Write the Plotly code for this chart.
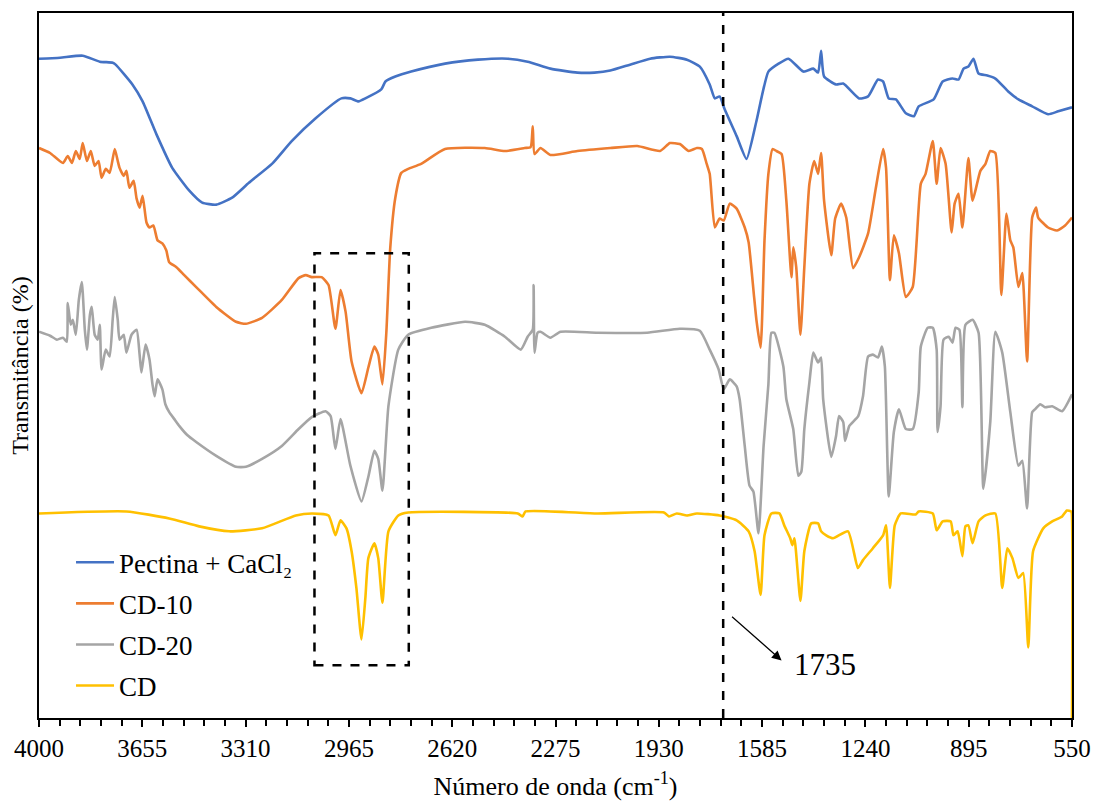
import plotly.graph_objects as go

# ---------------- data ----------------
# wavenumber (cm-1) and offset transmittance (arbitrary units, stacked curves)
wn_pectina = [4000, 3930, 3854, 3797, 3754, 3744, 3688, 3654, 3608, 3555, 3498, 3455, 3408, 3355,
              3299, 3222, 3156, 3076, 2990, 2960, 2933, 2910, 2857, 2843, 2810, 2757, 2644, 2534,
              2434, 2368, 2292, 2202, 2145, 2092, 2026, 1959, 1893, 1836, 1793, 1760, 1743, 1727,
              1710, 1670, 1637, 1604, 1564, 1530, 1497, 1447, 1414, 1398, 1388, 1378, 1338, 1314,
              1261, 1231, 1198, 1181, 1162, 1138, 1105, 1078, 1062, 1012, 982, 949, 929, 912, 896,
              879, 862, 833, 806, 763, 729, 683, 630, 596, 550]
t_pectina = [664, 665, 667, 661, 660, 658, 638, 621, 588, 554, 531, 519, 517, 524,
             539, 558, 581, 604, 624, 624, 621, 624, 633, 641, 646, 651, 659, 663,
             664, 661, 654, 650, 650, 652, 658, 664, 666, 663, 656, 638, 624, 626,
             613, 586, 563, 601, 651, 659, 664, 651, 654, 650, 672, 646, 638, 639,
             624, 626, 643, 641, 624, 623, 609, 606, 616, 623, 641, 644, 643, 654, 656,
             664, 649, 647, 644, 631, 623, 616, 608, 611, 615]

wn_cd10 = [4000, 3963, 3920, 3904, 3890, 3877, 3864, 3854, 3840, 3827, 3814, 3801, 3791, 3777,
           3764, 3747, 3737, 3731, 3717, 3708, 3698, 3684, 3674, 3664, 3654, 3641, 3631, 3618,
           3604, 3588, 3575, 3565, 3541, 3515, 3475, 3408, 3342, 3309, 3255, 3189, 3133, 3109,
           3089, 3056, 3033, 3010, 2993, 2976, 2956, 2923, 2900, 2880, 2867, 2853, 2840, 2827,
           2810, 2790, 2767, 2724, 2644, 2511, 2444, 2378, 2358, 2351, 2345, 2325, 2292, 2202,
           2092, 2002, 1926, 1893, 1860, 1830, 1803, 1786, 1770, 1760, 1743, 1727, 1713, 1693,
           1670, 1643, 1630, 1613, 1604, 1590, 1577, 1564, 1550, 1537, 1520, 1504, 1487, 1481,
           1471, 1457, 1444, 1427, 1411, 1398, 1388, 1378, 1354, 1341, 1321, 1304, 1281, 1261,
           1231, 1205, 1181, 1171, 1158, 1145, 1128, 1105, 1082, 1055, 1039, 1015, 1002, 989,
           972, 952, 942, 929, 916, 896, 882, 856, 839, 823, 806, 786, 769, 756, 746, 729, 716,
           700, 683, 670, 663, 630, 600, 573, 550]
t_cd10 = [574, 569, 559, 566, 559, 571, 563, 579, 561, 571, 556, 561, 544, 553,
          549, 573, 561, 554, 546, 551, 534, 541, 523, 514, 526, 499, 494, 496,
          481, 478, 471, 459, 454, 446, 434, 414, 399, 397, 403, 421, 443, 446,
          444, 444, 436, 392, 431, 409, 359, 327, 353, 374, 366, 336, 388, 473,
          524, 549, 553, 558, 573, 574, 571, 574, 575, 596, 568, 574, 567, 571,
          574, 576, 571, 579, 578, 571, 574, 573, 558, 548, 494, 503, 501, 518,
          513, 494, 479, 428, 401, 373, 481, 548, 573, 571, 568, 521, 444, 474,
          454, 386, 454, 538, 561, 548, 569, 521, 466, 503, 518, 504, 453, 464,
          488, 534, 573, 554, 441, 486, 468, 424, 434, 538, 548, 581, 538, 574,
          558, 489, 518, 528, 494, 564, 521, 551, 558, 571, 569, 426, 508, 481, 474, 434, 448,
          359, 504, 514, 504, 494, 491, 496, 504]

wn_cd20 = [4000, 3963, 3940, 3920, 3907, 3904, 3894, 3887, 3877, 3867, 3857, 3847, 3840, 3830,
           3824, 3814, 3804, 3797, 3791, 3777, 3764, 3754, 3747, 3737, 3731, 3717, 3708, 3691,
           3674, 3664, 3658, 3644, 3631, 3621, 3614, 3604, 3588, 3578, 3565, 3548, 3531, 3505,
           3475, 3408, 3342, 3309, 3255, 3189, 3133, 3089, 3043, 3026, 3010, 2993, 2960, 2923,
           2900, 2880, 2867, 2853, 2833, 2800, 2767, 2690, 2577, 2511, 2444, 2391, 2368, 2351,
           2348, 2345, 2335, 2325, 2292, 2258, 2135, 1969, 1860, 1793, 1760, 1730, 1713, 1693,
           1670, 1660, 1643, 1627, 1614, 1597, 1580, 1564, 1554, 1544, 1514, 1504, 1481, 1464,
           1454, 1444, 1427, 1414, 1398, 1388, 1381, 1354, 1338, 1328, 1314, 1308, 1294, 1264,
           1248, 1231, 1215, 1198, 1185, 1175, 1162, 1145, 1128, 1105, 1082, 1062, 1055, 1032,
           1015, 1002, 999, 989, 979, 962, 949, 939, 926, 916, 906, 882, 862, 846, 823, 806,
           783, 756, 729, 716, 700, 683, 673, 656, 640, 616, 583, 550]
t_cd20 = [389, 385, 381, 383, 379, 418, 396, 401, 386, 421, 439, 391, 371, 406,
          414, 386, 381, 396, 351, 371, 364, 401, 424, 401, 381, 386, 368, 386,
          391, 366, 348, 376, 361, 336, 324, 341, 331, 316, 308, 301, 294, 285,
          278, 264, 253, 253, 261, 274, 291, 303, 309, 304, 271, 301, 254, 218,
          243, 269, 261, 229, 314, 371, 386, 393, 399, 396, 384, 371, 384, 391,
          436, 368, 388, 389, 383, 389, 388, 388, 392, 390, 371, 351, 331, 341,
          334, 321, 274, 234, 228, 186, 274, 336, 388, 388, 354, 321, 291, 244,
          248, 291, 338, 368, 358, 363, 321, 263, 284, 304, 298, 279, 294, 304,
          324, 364, 366, 363, 374, 354, 223, 288, 311, 291, 291, 328, 374, 393,
          393, 371, 288, 314, 381, 384, 378, 393, 391, 313, 396, 401, 388, 231, 298, 389,
          368, 308, 254, 259, 211, 308, 311, 316, 313, 314, 309, 326]

wn_cd = [4000, 3708, 3565, 3465, 3365, 3255, 3142, 3089, 3033, 3010, 2993, 2973, 2956, 2940,
         2923, 2910, 2900, 2880, 2867, 2853, 2833, 2800, 2767, 2401, 2385, 2375, 2135, 1913,
         1896, 1870, 1836, 1803, 1727, 1670, 1630, 1610, 1590, 1577, 1554, 1527, 1511, 1491,
         1484, 1477, 1457, 1444, 1421, 1398, 1388, 1371, 1348, 1298, 1265, 1248, 1215, 1181,
         1171, 1158, 1142, 1122, 1072, 1062, 1015, 1002, 982, 955, 946, 932, 916, 906, 896,
         882, 862, 839, 806, 783, 766, 749, 729, 713, 696, 680, 646, 616, 583, 567, 553, 551, 550]
t_cd = [206, 208, 201, 193, 188, 191, 204, 206, 204, 184, 199, 191, 168, 131,
        79, 121, 161, 176, 161, 116, 188, 204, 207, 206, 203, 208, 206, 207,
        203, 206, 204, 206, 204, 199, 188, 168, 124, 184, 206, 206, 194, 181,
        174, 181, 118, 168, 196, 196, 188, 184, 181, 188, 151, 159, 171, 184,
        194, 131, 194, 206, 205, 208, 206, 189, 198, 198, 184, 188, 163, 193, 194,
        176, 198, 204, 206, 131, 171, 161, 141, 146, 71, 168, 191, 198, 203, 209, 208, 207, 0]

series = [
    ("Pectina + CaCl\u2082", wn_pectina, t_pectina, "#4472C4"),
    ("CD-10", wn_cd10, t_cd10, "#ED7D31"),
    ("CD-20", wn_cd20, t_cd20, "#A5A5A5"),
    ("CD", wn_cd, t_cd, "#FFC000"),
]

x_ticks = [4000, 3655, 3310, 2965, 2620, 2275, 1930, 1585, 1240, 895, 550]
peak_label = "1735"
peak_line_wn = 1715          # position of the dashed marker line on the axis
box_wn = [3080, 2765]        # dashed box around the C-H stretching bands
box_t = [53, 468]

FONT = "Liberation Serif, Times New Roman, serif"

fig = go.Figure()
for i, (name, wn, t, color) in enumerate(series):
    assert len(wn) == len(t), name
    fig.add_trace(go.Scatter(
        x=wn, y=t, mode="lines", name=name, legendgroup=f"g{i}",
        line=dict(color=color, width=2.6, shape="spline", smoothing=0.5),
    ))

fig.add_shape(type="line", xref="x", yref="paper", x0=peak_line_wn, x1=peak_line_wn,
              y0=0, y1=1, line=dict(color="black", width=2.5, dash="dash"))
fig.add_shape(type="rect", xref="x", yref="y", x0=box_wn[0], x1=box_wn[1],
              y0=box_t[0], y1=box_t[1], line=dict(color="black", width=2.5, dash="dash"))

fig.add_annotation(x=1520, y=58, xref="x", yref="y", ax=-51, ay=-45, text="",
                   showarrow=True, arrowhead=2, arrowsize=1.6, arrowwidth=1.2,
                   arrowcolor="black")
fig.add_annotation(x=1374, y=54, xref="x", yref="y", text=peak_label, showarrow=False,
                   font=dict(family=FONT, size=31, color="black"))

fig.update_xaxes(
    range=[4000, 550], tickvals=x_ticks, ticktext=[str(v) for v in x_ticks],
    ticks="outside", ticklen=7, tickwidth=1.5, tickcolor="black",
    minor=dict(dtick=69, tick0=550, ticks="outside", ticklen=6, tickwidth=1.5, tickcolor="black"),
    showline=True, linecolor="black", linewidth=2, mirror=True, layer="below traces",
    showgrid=False, zeroline=False,
    tickfont=dict(family=FONT, size=25, color="black"),
    title=dict(text="Número de onda (cm<sup>-1</sup>)", standoff=16,
               font=dict(family=FONT, size=26, color="black")),
)
fig.update_yaxes(
    range=[0, 710], showticklabels=False, ticks="",
    showline=True, linecolor="black", linewidth=2, mirror=True, layer="below traces",
    showgrid=False, zeroline=False,
    title=dict(text="Transmitância (%)", standoff=2,
               font=dict(family=FONT, size=24, color="black")),
)

fig.update_layout(
    width=1102, height=807,
    margin=dict(l=39, r=25, t=11, b=86),
    paper_bgcolor="white", plot_bgcolor="white",
    font=dict(family=FONT, color="black"),
    showlegend=True,
    legend=dict(x=0.031, y=0.255, xanchor="left", yanchor="top",
                font=dict(family=FONT, size=27, color="black"),
                bgcolor="rgba(0,0,0,0)", traceorder="grouped", tracegroupgap=3,
                itemwidth=38),
)

fig.write_html("out.html")
